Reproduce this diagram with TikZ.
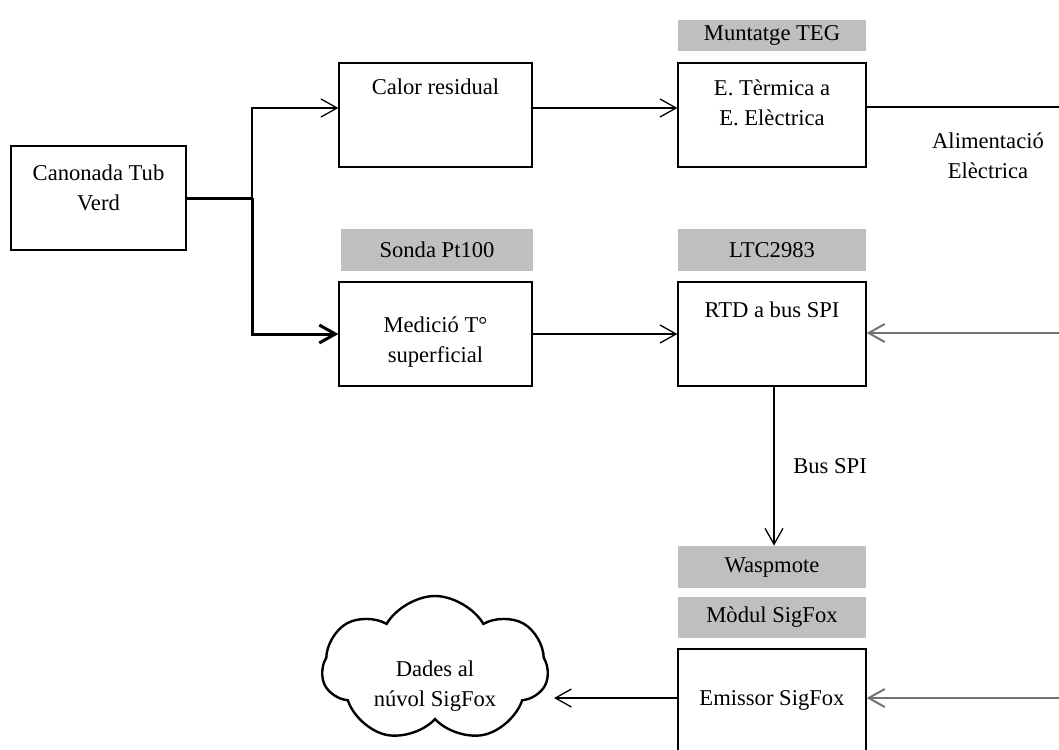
\documentclass[tikz,border=0pt]{standalone}
\usepackage{fontspec}
\setmainfont{Liberation Serif}
\usetikzlibrary{arrows.meta,shapes.symbols}

\begin{document}
\begin{tikzpicture}[x=0.5pt, y=-0.5pt,
    >={Straight Barb[length=8pt,width=9pt]},
    box/.style={rectangle, draw, line width=0.65pt, minimum width=94pt, minimum height=52pt, align=center, font=\fontsize{11.3}{15}\selectfont},
    tag/.style={rectangle, fill=black!25, minimum width=94pt, minimum height=21pt, inner sep=0pt, font=\fontsize{11.3}{15}\selectfont},
    wire/.style={line width=0.65pt},
    feed/.style={draw=black!55, line width=1pt}]

    \useasboundingbox (0,0) rectangle (1059,749);

    % blocs
    \node[box, minimum width=87.5pt, text depth=10pt] (tub) at (98.5,198) {Canonada Tub\\Verd};
    \node[box, minimum width=96.5pt, text depth=28pt] (calor) at (435.5,115) {Calor residual};
    \node[box, text depth=12pt] (conv) at (772,115) {E. Tèrmica a\\E. Elèctrica};
    \node[box, minimum width=96.5pt, text height=28.7pt, text depth=0pt] (medicio) at (435.5,334) {Medició T°\\superficial};
    \node[box, text depth=24pt] (rtd) at (772,334) {RTD a bus SPI};
    \node[box, text depth=3pt] (emissor) at (772,701) {Emissor SigFox};

    % etiquetes grises
    \node[tag, minimum height=15.5pt] (teg) at (772,35.5) {Muntatge TEG};
    \node[tag, minimum width=96pt] (sonda) at (437,250) {Sonda Pt100};
    \node[tag] (ltc) at (772,250) {LTC2983};
    \node[tag] (wasp) at (772,567) {Waspmote};
    \node[tag, minimum height=20.5pt] (modul) at (772,617.5) {Mòdul SigFox};

    % núvol
    \node[cloud, draw, line width=1.2pt, cloud puffs=7, cloud puff arc=120, aspect=1.6,
          minimum width=113pt, minimum height=73pt, inner sep=0pt, align=center, text height=37pt, text depth=-37pt,
          font=\fontsize{11.3}{15}\selectfont] (cloud) at (435,669) {Dades al\\núvol SigFox};

    \node[align=center, font=\fontsize{11.3}{15}\selectfont] (alim) at (988,156) {Alimentació\\Elèctrica};

    % extrems lliures a la vora dreta
    \coordinate (edgeA) at (1059,107);
    \coordinate (edgeB) at (1059,333);
    \coordinate (edgeC) at (1059,698);

    % connexions
    \draw[line width=1.5pt] (tub.east) -- (252,198) coordinate (split);
    \draw[->, line width=1.5pt] (split) |- (medicio.west);
    \draw[->, wire] (split) |- ([yshift=3.5pt]calor.west);
    \draw[->, wire] ([yshift=3.5pt]calor.east) -- ([yshift=3.5pt]conv.west);
    \draw[wire] ([yshift=4pt]conv.east) -- (edgeA);
    \draw[->, wire] (medicio) -- (rtd);
    \draw[->, wire] ([xshift=1pt]rtd.south) -- ([xshift=1pt]wasp.north) node[midway, right, xshift=6pt, font=\fontsize{11.3}{15}\selectfont] {Bus SPI};
    \draw[->, feed] (edgeB) -- (rtd.east |- edgeB);
    \draw[->, feed] (edgeC) -- (emissor.east |- edgeC);
    \draw[->, wire] (emissor.west |- edgeC) -- ([xshift=2.5pt]cloud.east |- edgeC);
\end{tikzpicture}
\end{document}
